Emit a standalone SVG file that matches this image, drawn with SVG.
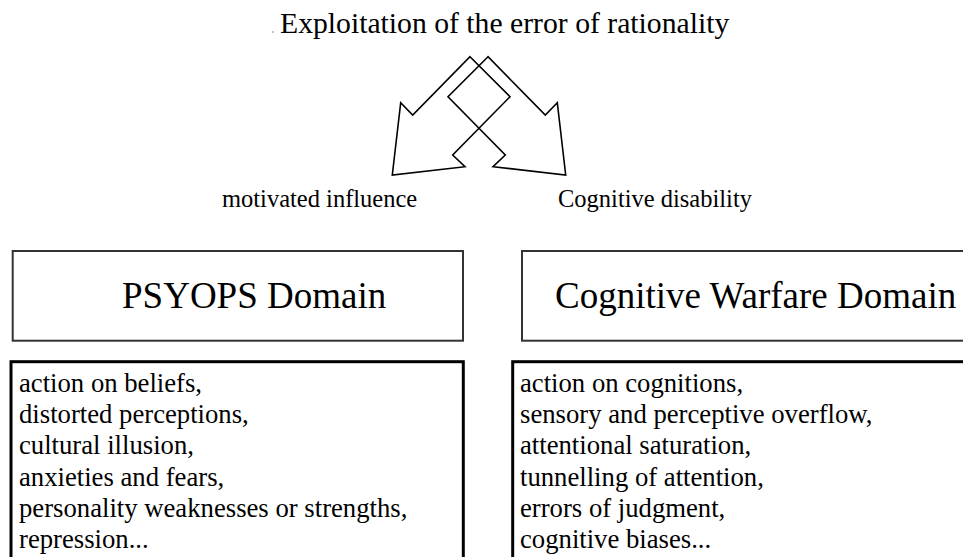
<svg xmlns="http://www.w3.org/2000/svg" width="963" height="557" viewBox="0 0 963 557" font-family="'Liberation Serif', 'DejaVu Serif', 'Noto Serif', serif">
  <style>
    .t { font-family: 'Liberation Serif', 'DejaVu Serif', serif; fill: #000; }
    .title { font-size: 29.7px; }
    .label { font-size: 24.5px; }
    .head { font-size: 37px; }
    .item { font-size: 26.7px; }
    .hbox { fill: #fff; stroke: #333; stroke-width: 2; }
    .lbox { fill: #fff; stroke: #000; stroke-width: 3; }
    .arrow { fill: none; stroke: #000; stroke-width: 1.6; stroke-linejoin: miter; }
  </style>
  <rect width="963" height="557" fill="#fff"/>

  <g id="title">
    <circle cx="273" cy="32" r="0.7" fill="#555"/>
    <text class="t title" x="280" y="33" font-family="Liberation Serif, serif">Exploitation of the error of rationality</text>
  </g>

  <g id="connectors">
    <polygon class="arrow" points="470,56.7 510,96.7 452.7,155 465,166.7 392.3,175 400.7,102.7 412.7,115"/>
    <polygon class="arrow" points="488,56.7 448,96.7 505.3,155 493,166.7 565.7,175 557.3,102.7 545.3,115"/>
  </g>

  <g id="label-motivated">
    <text class="t label" x="222" y="207" font-family="Liberation Serif, serif">motivated influence</text>
  </g>
  <g id="label-cognitive">
    <text class="t label" x="558" y="207" font-family="Liberation Serif, serif">Cognitive disability</text>
  </g>

  <g id="psyops-domain">
    <rect class="hbox" x="12.7" y="251" width="450.3" height="89.7"/>
    <text class="t head" x="122" y="308.3" font-family="Liberation Serif, serif">PSYOPS Domain</text>
  </g>

  <g id="cognitive-domain">
    <rect class="hbox" x="522" y="251" width="460" height="89.7"/>
    <text class="t head" x="555" y="308.3" font-family="Liberation Serif, serif">Cognitive Warfare Domain</text>
  </g>

  <g id="psyops-list">
    <rect class="lbox" x="11" y="361.7" width="452.3" height="220"/>
    <text class="t item" x="19" font-family="Liberation Serif, serif">
      <tspan x="19" y="391.7">action on beliefs,</tspan>
      <tspan x="19" y="423">distorted perceptions,</tspan>
      <tspan x="19" y="454.3">cultural illusion,</tspan>
      <tspan x="19" y="485.6">anxieties and fears,</tspan>
      <tspan x="19" y="516.9">personality weaknesses or strengths,</tspan>
      <tspan x="19" y="548.2">repression...</tspan>
    </text>
  </g>

  <g id="cognitive-list">
    <rect class="lbox" x="512.7" y="361.7" width="470" height="220"/>
    <text class="t item" x="520" font-family="Liberation Serif, serif">
      <tspan x="520" y="391.7">action on cognitions,</tspan>
      <tspan x="520" y="423">sensory and perceptive overflow,</tspan>
      <tspan x="520" y="454.3">attentional saturation,</tspan>
      <tspan x="520" y="485.6">tunnelling of attention,</tspan>
      <tspan x="520" y="516.9">errors of judgment,</tspan>
      <tspan x="520" y="548.2">cognitive biases...</tspan>
    </text>
  </g>
</svg>
